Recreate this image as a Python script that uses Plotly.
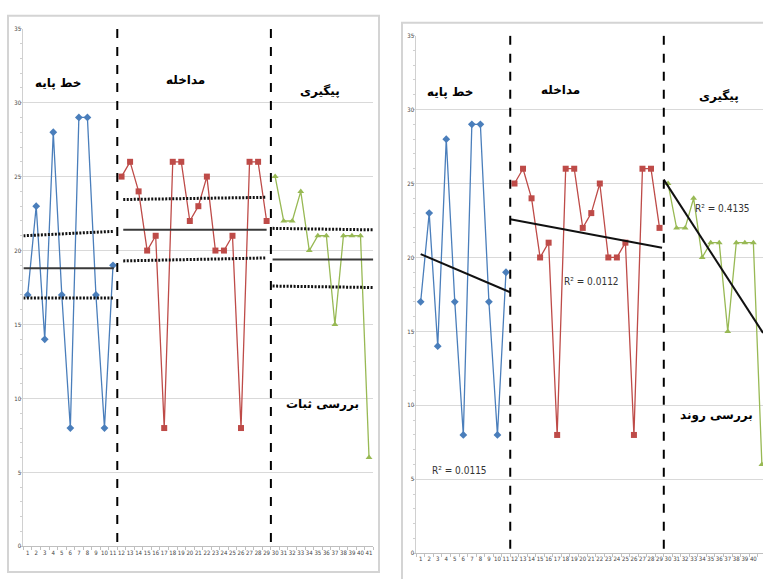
import numpy as np
import plotly.graph_objects as go

# ---------------- data ----------------
baseline_x = list(range(1, 12))
baseline_y = [17, 23, 14, 28, 17, 8, 29, 29, 17, 8, 19]
interv_x = list(range(12, 30))
interv_y = [25, 26, 24, 20, 21, 8, 26, 26, 22, 23, 25, 20, 20, 21, 8, 26, 26, 22]
follow_x = list(range(30, 42))
follow_y = [25, 22, 22, 24, 20, 21, 21, 15, 21, 21, 21, 6]
x_ticks = list(range(1, 42))
y_ticks = [0, 5, 10, 15, 20, 25, 30, 35]

# stability band levels (start level, end level)
phase_spans = [(0.5, 11.1), (12.2, 29.0), (29.7, 41.5)]
mean_levels = [(18.8, 18.8), (21.4, 21.4), (19.4, 19.4)]
upper_levels = [(21.0, 21.3), (23.45, 23.6), (21.5, 21.4)]
lower_levels = [(16.8, 16.8), (19.3, 19.5), (17.6, 17.5)]
phase_breaks = [11.5, 29.5]

phase_names = ["خط پایه", "مداخله", "پیگیری"]
left_note = "بررسی ثبات"
right_note = "بررسی روند"

BLUE, RED, GREEN = "#4a7ebb", "#be4b48", "#98b954"
W, H = 763, 579
NARROW = "DejaVu Sans Condensed, Liberation Sans, sans-serif"

fig = go.Figure()

series = [(baseline_x, baseline_y, BLUE, "diamond"),
          (interv_x, interv_y, RED, "square"),
          (follow_x, follow_y, GREEN, "triangle-up")]

for xa, ya in (("x", "y"), ("x2", "y2")):
    for xs, ys, col, sym in series:
        fig.add_trace(go.Scatter(x=xs, y=ys, mode="lines+markers", xaxis=xa, yaxis=ya,
                                 line=dict(color=col, width=1.3),
                                 marker=dict(color=col, symbol=sym, size=6),
                                 showlegend=False, cliponaxis=False))

# left: mean and band lines
for (x0, x1), m, u, l in zip(phase_spans, mean_levels, upper_levels, lower_levels):
    fig.add_trace(go.Scatter(x=[x0, x1], y=list(m), mode="lines", xaxis="x", yaxis="y",
                             line=dict(color="#3a3a3a", width=2), showlegend=False))
    for lv in (u, l):
        fig.add_trace(go.Scatter(x=[x0, x1], y=list(lv), mode="lines", xaxis="x", yaxis="y",
                                 line=dict(color="#111111", width=3, dash="2px,1.5px"),
                                 showlegend=False, cliponaxis=False))

# right: trend lines (least squares)
trend_spans = [(1, 11.5), (11.5, 29.3), (29.5, 41.13)]
r2_pos = [(5.5, 5.6), (21.0, 18.4), (36.4, 23.3)]
shapes = []
annotations = []
for (xs, ys, col, sym), (t0, t1), (ax_, ay_) in zip(series, trend_spans, r2_pos):
    xs_a, ys_a = np.array(xs, float), np.array(ys, float)
    b, a = np.polyfit(xs_a, ys_a, 1)
    pred = a + b * xs_a
    r2 = 1 - ((ys_a - pred) ** 2).sum() / ((ys_a - ys_a.mean()) ** 2).sum()
    fig.add_trace(go.Scatter(x=[t0, t1], y=[a + b * t0, a + b * t1], mode="lines",
                             xaxis="x2", yaxis="y2", line=dict(color="#111111", width=2),
                             showlegend=False, cliponaxis=False))
    annotations.append(dict(x=ax_, y=ay_, xref="x2", yref="y2", text=f"R² = {r2:.4f}",
                            showarrow=False,
                            font=dict(family=NARROW, size=10, color="#333333")))

# phase break dashed lines
for xa, ya in (("x", "y"), ("x2", "y2")):
    for b in phase_breaks:
        shapes.append(dict(type="line", xref=xa, yref=ya, x0=b, x1=b, y0=0.3, y1=35,
                           line=dict(color="black", width=2, dash="dash")))

# panel frames
shapes.append(dict(type="rect", xref="paper", yref="paper", x0=8 / W, x1=379 / W,
                   y0=(H - 575) / H, y1=(H - 12) / H, line=dict(color="#d4d4d4", width=2)))
shapes.append(dict(type="rect", xref="paper", yref="paper", x0=402 / W, x1=1.01,
                   y0=-0.02, y1=(H - 19) / H, line=dict(color="#d4d4d4", width=2)))

pfont = dict(family="DejaVu Sans", size=12, color="black")
left_pos = [(4.6, 31.3), (19.5, 31.5), (35.3, 30.8)]
right_pos = [(4.4, 31.2), (17.4, 31.3), (36.0, 30.9)]
for name, (x, y) in zip(phase_names, left_pos):
    annotations.append(dict(x=x, y=y, xref="x", yref="y", text=f"<b>{name}</b>",
                            showarrow=False, font=pfont))
for name, (x, y) in zip(phase_names, right_pos):
    annotations.append(dict(x=x, y=y, xref="x2", yref="y2", text=f"<b>{name}</b>",
                            showarrow=False, font=pfont))
annotations.append(dict(x=35.6, y=9.6, xref="x", yref="y", text=f"<b>{left_note}</b>",
                        showarrow=False, font=pfont))
annotations.append(dict(x=35.7, y=9.3, xref="x2", yref="y2", text=f"<b>{right_note}</b>",
                        showarrow=False, font=pfont))

tickfont = dict(family=NARROW, size=6, color="#444444")
xcommon = dict(tickvals=x_ticks, ticktext=[str(v) for v in x_ticks], tickfont=tickfont,
               showgrid=False, zeroline=False, showline=True, linecolor="#bfbfbf",
               ticks="", tickangle=0,
               minor=dict(tick0=0.5, dtick=1, ticks="outside", ticklen=3, tickcolor="#bfbfbf"))
ycommon = dict(tickvals=y_ticks, tickfont=tickfont, range=[0, 35], showgrid=True,
               gridcolor="#d9d9d9", gridwidth=1, zeroline=False, showline=True,
               linecolor="#d0d0d0", ticks="",
               minor=dict(dtick=1, ticks="outside", ticklen=2, tickcolor="#d0d0d0"))

fig.update_layout(
    width=W, height=H, margin=dict(l=0, r=0, t=0, b=0),
    paper_bgcolor="white", plot_bgcolor="white",
    xaxis=dict(domain=[23.4 / W, 373.3 / W], range=[0.5, 41.5], anchor="y", **xcommon),
    yaxis=dict(domain=[(H - 549) / H, (H - 25) / H], anchor="x", **ycommon),
    xaxis2=dict(domain=[416.4 / W, 1.0], range=[0.5, 41.13], anchor="y2", **xcommon),
    yaxis2=dict(domain=[(H - 556) / H, (H - 32) / H], anchor="x2", **ycommon),
    shapes=shapes, annotations=annotations,
)

fig.write_html("out.html")
